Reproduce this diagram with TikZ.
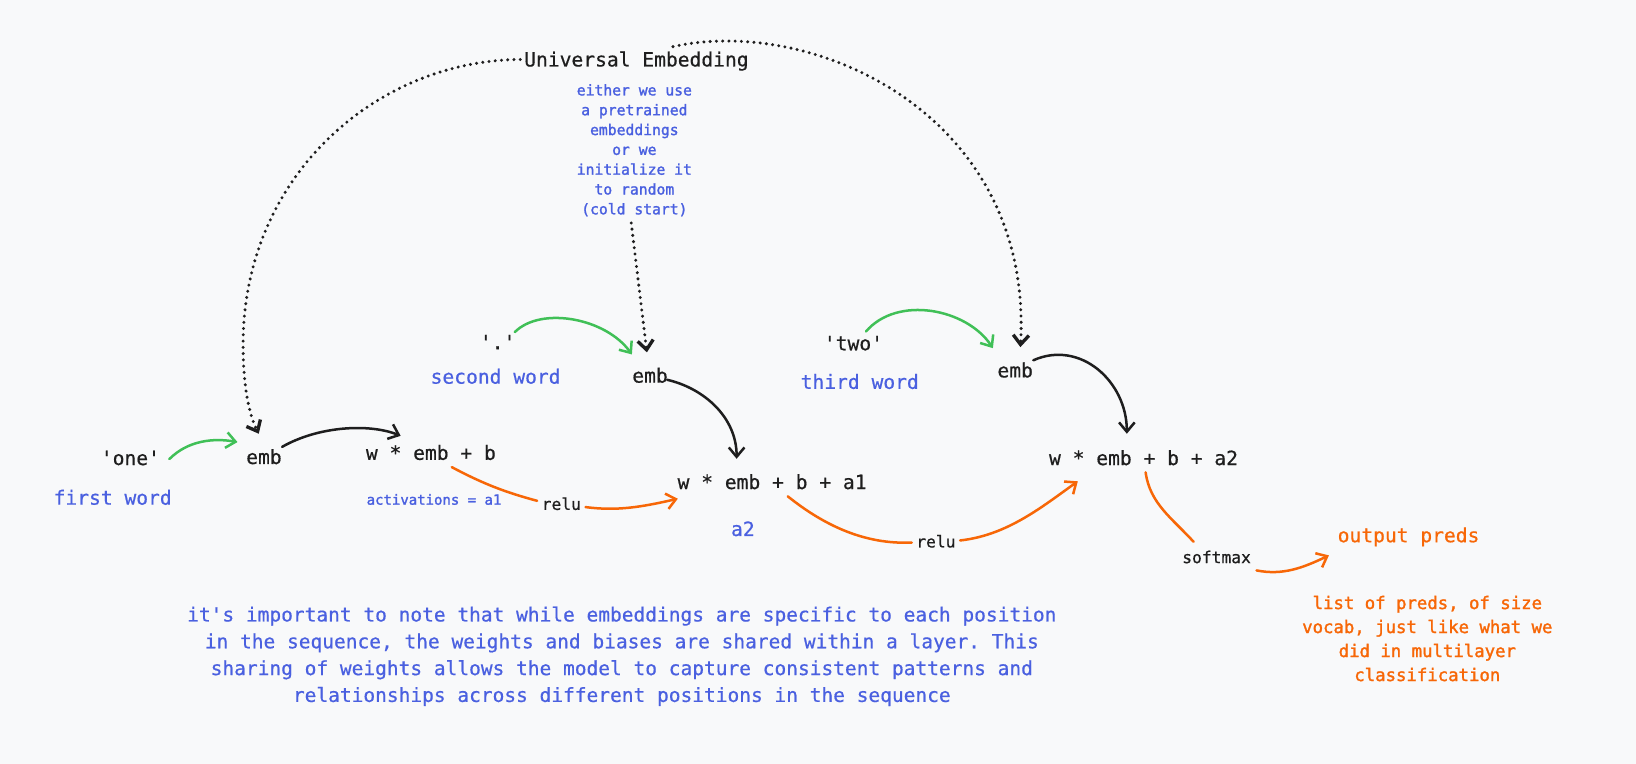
\documentclass[tikz,border=0pt]{standalone}
\usepackage{fontspec}
\setmonofont{DejaVu Sans Mono}[FakeBold=0.6]
\newfontfamily\notefont{DejaVu Sans Mono}[FakeBold=1.6]
\renewcommand*\familydefault{\ttdefault}
\usetikzlibrary{arrows.meta}
\definecolor{ink}{HTML}{1E1E1E}
\definecolor{wordblue}{HTML}{4A60E0}
\definecolor{actorange}{HTML}{F76707}
\definecolor{embgreen}{HTML}{40C057}
\definecolor{paper}{HTML}{F8F9FA}

\begin{document}
\begin{tikzpicture}[x=0.5pt, y=-0.5pt,
    every node/.style={inner sep=1pt, text=ink, text height=7pt, text depth=2.3pt,
      font=\fontsize{9.4}{11}\selectfont},
    block/.style={text height=, text depth=, align=center},
    note/.style={text=wordblue},
    fn/.style={font=\fontsize{7.8}{9}\selectfont},
    flow/.style={line width=1.2pt, line cap=round, -{Straight Barb[length=4.5pt,width=7.5pt]}},
    link/.style={flow, embgreen},
    act/.style={flow, actorange},
    actline/.style={line width=1.2pt, line cap=round, actorange},
    dots/.style={flow, ink, line width=1.6pt, dash pattern=on 0pt off 3pt}]
  \fill[paper] (0,0) rectangle (1568,732);

  \node (univ) at (610,59) {Universal Embedding};
  \node[note, block, font=\notefont\fontsize{7.05}{9.5}\selectfont] (desc) at (608,144)
    {either we use\\a pretrained\\embeddings\\or we\\initialize it\\to random\\(cold start)};

  \node (one) at (125,441) {'one'};
  \node[note] (firstword) at (108,479) {first word};
  \node (emb1) at (253,440) {emb};
  \node (wb) at (413,436) {w * emb + b};
  \node[note, font=\notefont\fontsize{6.7}{8}\selectfont] (acts) at (416,479) {activations = a1};
  \node[fn] (relu1) at (538,484) {relu};

  \node (dot) at (477,330) {'.'};
  \node[note] (secondword) at (475,363) {second word};
  \node (emb2) at (623,362) {emb};
  \node (wba1) at (740,464) {w * emb + b + a1};
  \node[note] (atwo) at (712,509) {a2};
  \node[fn] (relu2) at (897,520) {relu};

  \node (two) at (818,331) {'two'};
  \node[note] (thirdword) at (824,368) {third word};
  \node (emb3) at (973,357) {emb};
  \node (wba2) at (1096,441) {w * emb + b + a2};
  \node[fn] (softmax) at (1166,535) {softmax};
  \node[text=actorange] (out) at (1350,515) {output preds};
  \node[block, text=actorange, font=\notefont\fontsize{8.3}{11.5}\selectfont] (outdesc) at (1368,612)
    {list of preds, of size\\vocab, just like what we\\did in multilayer\\classification};

  \node[note, block, font=\fontsize{9.35}{12.85}\selectfont] (para) at (596,629)
    {it's important to note that while embeddings are specific to each position\\
     in the sequence, the weights and biases are shared within a layer. This\\
     sharing of weights allows the model to capture consistent patterns and\\
     relationships across different positions in the sequence};

  \draw[link] ([xshift=3.3pt,yshift=0.5pt]one.east) .. controls +(18,-18) and +(-23,-4) .. ([xshift=-3pt,yshift=2.3pt]emb1.north west);
  \draw[flow, ink] ([xshift=-1pt]emb1.north east) .. controls +(35,-20) and +(-30,-12) .. ([xshift=-14.5pt,yshift=3.3pt]wb.north);
  \draw[actline] ([xshift=10pt]wb.south) .. controls +(30,16) and +(-30,-8) .. ([xshift=-1pt,yshift=2pt]relu1.west);
  \draw[act] ([xshift=1pt,yshift=-1pt]relu1.east) .. controls +(30,4) and +(-35,8) .. ([xshift=1.3pt,yshift=-7pt]wba1.west);

  \draw[link] ([xshift=-1.5pt]dot.north east) .. controls +(25,-25) and +(-25,-35) .. ([xshift=1pt,yshift=5.3pt]emb2.north west);
  \draw[dots] ([xshift=-1.5pt,yshift=-2pt]desc.south) -- ([xshift=-1.5pt,yshift=6.3pt]emb2.north);
  \draw[flow, ink] ([xshift=-1.5pt,yshift=-1pt]emb2.east) .. controls +(35,8) and +(0,-40) .. ([xshift=-17pt,yshift=6.3pt]wba1.north);
  \draw[actline] ([xshift=7.5pt]wba1.south) .. controls +(35,28) and +(-45,2) .. ([xshift=-1pt]relu2.west);
  \draw[act] ([xshift=1pt,yshift=1pt]relu2.east) .. controls +(45,-5) and +(-35,25) .. ([xshift=-31.5pt,yshift=-4.3pt]wba2.south);

  \draw[link] ([xshift=6pt,yshift=0.8pt]two.north) .. controls +(30,-35) and +(-25,-38) .. ([xshift=-1pt,yshift=5.8pt]emb3.north west);
  \draw[flow, ink] ([xshift=-1pt]emb3.north east) .. controls +(45,-20) and +(0,-50) .. ([xshift=-8pt,yshift=6.8pt]wba2.north);
  \draw[actline] ([xshift=1pt]wba2.south) .. controls +(4,30) and +(-20,-22) .. ([xshift=-11pt,yshift=2pt]softmax.north);
  \draw[act] ([xshift=1.5pt]softmax.south east) .. controls +(25,5) and +(-25,12) .. ([xshift=-3pt,yshift=-2.8pt]out.south west);

  \draw[dots] ([xshift=-0.75pt,yshift=1pt]univ.west) .. controls +(-139,1) and +(0,-160) .. (233,330)
    .. controls +(0,45) and +(-8,-16) .. ([xshift=-2.5pt,yshift=6.3pt]emb1.north);
  \draw[dots] ([xshift=17.5pt,yshift=1.3pt]univ.north) .. controls +(135,-30) and +(12,-223) .. ([xshift=2.5pt,yshift=6.3pt]emb3.north);
\end{tikzpicture}
\end{document}
